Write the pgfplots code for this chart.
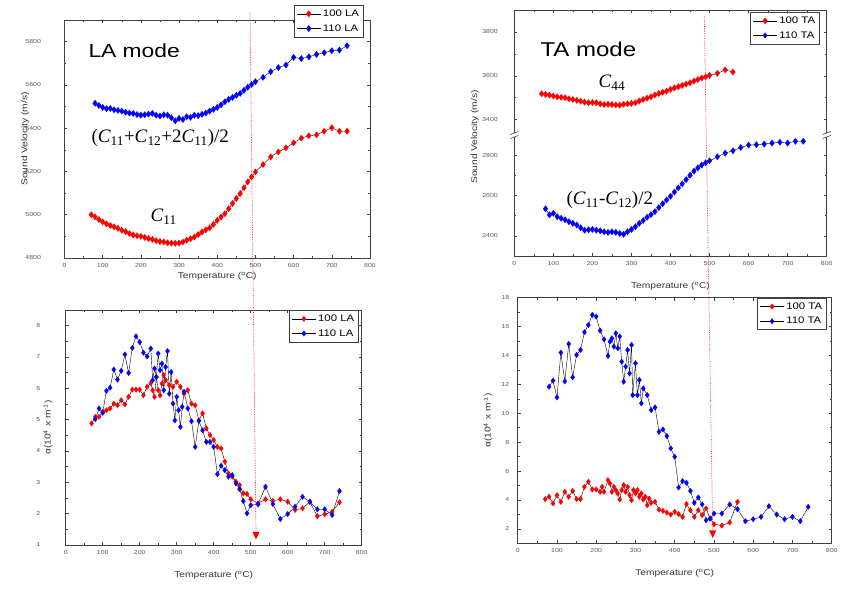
\documentclass[border=0pt]{standalone}
\usepackage{fontspec}
\setmainfont{Liberation Sans}
\newfontfamily\wide[FakeStretch=1.2]{Liberation Sans}
\newfontfamily\serifit{Liberation Serif}
\usepackage{pgfplots}
\pgfplotsset{compat=1.18}
\definecolor{axgray}{gray}{0.25}
\definecolor{tkgray}{gray}{0.35}
\pgfplotsset{
 panel/.style={
  scale only axis, xmin=0, xmax=800, xtick={0,100,...,800}, minor x tick num=1,
  tick align=inside, major tick length=3pt, minor tick length=2pt,
  axis line style={axgray, line width=0.7pt},
  tick style={axgray, line width=0.5pt},
  ticklabel style={font=\wide\fontsize{5.8}{6.5}\selectfont, text=tkgray},
  /pgf/number format/assume math mode=true,
  /pgf/number format/1000 sep={},
  xticklabel style={yshift=-2pt},
  label style={font=\wide\fontsize{8.5}{10}\selectfont, text=black!80},
  xlabel={Temperature (\textsuperscript{o}C)},
  legend cell align=left,
  legend image code/.code={\draw[mark repeat=2,mark phase=2,##1] plot coordinates {(0pt,0pt) (12pt,0pt) (24pt,0pt)};},
  legend style={draw=axgray, line width=0.6pt, font=\wide\fontsize{9.5}{11}\selectfont, inner xsep=2.5pt, inner ysep=2.5pt, row sep=2.5pt},
 },
 s100/.style={black, line width=0.4pt, mark=diamond*, mark size=2.8pt, mark options={draw=red, fill=red, line width=0.2pt}},
 s110/.style={black, line width=0.4pt, mark=diamond*, mark size=2.8pt, mark options={draw=blue, fill=blue, line width=0.2pt}},
 big/.style={mark size=3.2pt},
}
\begin{document}
\begin{tikzpicture}
\path[use as bounding box] (0pt,0pt) rectangle (865pt,599pt);
% ---------------- Panel A: LA velocity
\begin{axis}[panel, at={(64.5pt,341pt)}, anchor=south west, width=305.5pt, height=238pt,
  ymin=4800, ymax=5900, ytick={4800,5000,...,5800}, minor y tick num=1,
  yticklabel style={xshift=-20pt},
  ylabel={Sound Velocity (m/s)}, ylabel style={at={(axis description cs:-0.129,0.5)}, anchor=center},
  xlabel style={at={(axis description cs:0.5,-0.0756)}, anchor=center},
  legend style={at={(0.98,1.063)}, anchor=north east}]
\addplot[s100,big] coordinates {(70,5000) (80,4990) (90,4978) (100,4967) (110,4958) (120,4950) (130,4944) (140,4937) (150,4928) (160,4922) (170,4913) (180,4906) (190,4903) (200,4900) (210,4895) (220,4890) (230,4886) (240,4880) (250,4876) (260,4874) (270,4870) (280,4869) (290,4868) (300,4869) (310,4874) (320,4882) (330,4889) (340,4897) (350,4908) (360,4920) (370,4930) (380,4939) (390,4955) (400,4974) (410,4990) (420,5005) (430,5028) (440,5052) (450,5075) (460,5098) (470,5125) (480,5152) (490,5175) (500,5198) (520,5232) (540,5267) (560,5290) (580,5309) (600,5332) (620,5354) (640,5365) (660,5369) (680,5386) (700,5402) (720,5386) (740,5386)};
\addlegendentry{100 LA}
\addplot[s110,big] coordinates {(80,5515) (90,5505) (100,5496) (110,5490) (120,5491) (130,5485) (140,5482) (150,5479) (160,5474) (170,5470) (180,5468) (190,5463) (200,5460) (210,5462) (220,5465) (230,5468) (240,5460) (250,5456) (260,5462) (270,5460) (280,5448) (290,5434) (300,5445) (310,5440) (320,5453) (330,5450) (340,5460) (350,5458) (360,5464) (370,5470) (380,5479) (390,5487) (400,5496) (410,5508) (420,5522) (430,5533) (440,5542) (450,5552) (460,5561) (470,5575) (480,5589) (490,5602) (500,5615) (520,5635) (540,5661) (560,5680) (580,5692) (600,5727) (620,5722) (640,5730) (660,5741) (680,5749) (700,5758) (720,5761) (740,5781)};
\addlegendentry{110 LA}
\end{axis}
% ---------------- Panel B lower
\begin{axis}[panel, at={(514.3pt,343pt)}, anchor=south west, width=312.4pt, height=121pt,
  ymin=2300, ymax=2900, ytick={2400,2600,2800}, minor y tick num=1, xtick pos=left,
  axis line style={draw=none}, yticklabel style={xshift=-13pt},
  xlabel style={at={(axis description cs:0.5,-0.248)}, anchor=center}]
\addplot[s110,big] coordinates {(80,2534) (90,2504) (100,2512) (110,2495) (120,2487) (130,2480) (140,2470) (150,2462) (160,2454) (170,2440) (180,2428) (190,2430) (200,2432) (210,2428) (220,2425) (230,2420) (240,2417) (250,2420) (260,2417) (270,2412) (280,2408) (290,2420) (300,2432) (310,2445) (320,2462) (330,2476) (340,2492) (350,2505) (360,2520) (370,2540) (380,2559) (390,2578) (400,2596) (410,2617) (420,2638) (430,2658) (440,2679) (450,2700) (460,2721) (470,2737) (480,2751) (490,2762) (500,2772) (520,2792) (540,2810) (560,2822) (580,2838) (600,2850) (620,2852) (640,2855) (660,2860) (680,2864) (700,2860) (720,2869) (740,2869)};
\end{axis}
% ---------------- Panel B upper
\begin{axis}[panel, at={(514.3pt,464pt)}, anchor=south west, width=312.4pt, height=125pt,
  ymin=3330, ymax=3900, ytick={3400,3600,3800}, minor y tick num=1, xtick pos=right,
  xticklabels={}, xlabel={}, axis line style={draw=none}, yticklabel style={xshift=-13pt},
  legend style={at={(0.9786,0.984)}, anchor=north east}]
\addplot[s100,big] coordinates {(70,3518) (80,3515) (90,3512) (100,3508) (110,3504) (120,3502) (130,3500) (140,3495) (150,3492) (160,3488) (170,3484) (180,3480) (190,3477) (200,3478) (210,3477) (220,3472) (230,3469) (240,3470) (250,3469) (260,3467) (270,3466) (280,3470) (290,3472) (300,3474) (310,3477) (320,3485) (330,3492) (340,3498) (350,3504) (360,3512) (370,3519) (380,3525) (390,3530) (400,3538) (410,3545) (420,3550) (430,3556) (440,3562) (450,3568) (460,3576) (470,3583) (480,3590) (490,3595) (500,3602) (520,3611) (540,3627) (560,3617)};
\addlegendentry{100 TA}
\addlegendimage{s110}
\addlegendentry{110 TA}
\end{axis}
% frame of panel B with axis break
\draw[axgray, line width=0.7pt] (514.3pt,466pt) -- (514.3pt,589pt) -- (826.7pt,589pt) -- (826.7pt,466pt);
\draw[axgray, line width=0.7pt] (514.3pt,462pt) -- (514.3pt,343pt) -- (826.7pt,343pt) -- (826.7pt,462pt);
\foreach \bx in {514.3,826.7}{
  \draw[axgray, line width=0.6pt] (\bx pt-4pt,460.5pt) -- (\bx pt+4pt,463.5pt);
  \draw[axgray, line width=0.6pt] (\bx pt-4pt,464.5pt) -- (\bx pt+4pt,467.5pt);
}
\node[rotate=90, font=\wide\fontsize{8.5}{10}\selectfont, text=black!80] at (475pt,462pt) {Sound Velocity (m/s)};
% ---------------- Panel C: LA attenuation
\begin{axis}[panel, at={(65.7pt,54pt)}, anchor=south west, width=296pt, height=235pt,
  ymin=1, ymax=8.5, ytick={1,...,8}, minor y tick num=1,
  yticklabel style={xshift=-22pt},
  ylabel={α(10\textsuperscript{4} x m\textsuperscript{-1})}, ylabel style={at={(axis description cs:-0.06,0.5)}, anchor=center},
  xlabel style={at={(axis description cs:0.5,-0.128)}, anchor=center},
  legend style={at={(0.991,1)}, anchor=north east}]
\addplot[s100] coordinates {(70,4.88) (80,5.09) (90,5.09) (100,5.25) (110,5.30) (120,5.36) (130,5.51) (140,5.46) (150,5.62) (160,5.49) (170,5.73) (180,5.96) (190,5.96) (200,5.96) (210,5.78) (220,6.05) (230,6.17) (235,5.94) (240,5.73) (245,6.36) (250,5.94) (255,5.78) (260,6.15) (265,6.42) (270,6.26) (280,6.10) (290,6.05) (300,6.21) (310,6.05) (320,5.83) (330,5.94) (340,5.51) (350,5.46) (360,4.98) (370,5.20) (380,4.72) (390,4.51) (400,4.35) (410,4.13) (420,4.08) (430,3.66) (440,3.28) (450,3.18) (460,3.02) (470,2.91) (480,2.65) (490,2.63) (500,2.46) (520,2.33) (540,2.46) (560,2.41) (580,2.46) (600,2.38) (620,2.12) (640,2.17) (660,2.38) (680,1.92) (700,1.98) (720,2.06) (740,2.36)};
\addlegendentry{100 LA}
\addplot[s110] coordinates {(80,5.02) (90,5.36) (100,5.22) (110,5.92) (120,6.02) (130,6.60) (140,6.28) (150,6.56) (160,7.08) (170,6.49) (180,7.29) (190,7.66) (200,7.48) (210,7.14) (220,7.02) (230,7.27) (235,6.26) (240,6.63) (245,6.36) (250,7.11) (255,6.58) (260,6.79) (265,5.94) (270,6.68) (275,7.19) (280,5.83) (285,6.52) (290,5.51) (295,4.98) (300,5.73) (305,5.30) (310,4.77) (315,5.41) (320,5.89) (330,5.36) (340,4.95) (350,4.13) (360,4.96) (370,4.66) (380,4.29) (390,4.29) (400,4.13) (410,3.26) (420,3.53) (430,3.39) (440,3.18) (450,3.23) (460,2.97) (470,2.78) (480,2.40) (490,2.01) (500,2.27) (520,2.30) (540,2.86) (560,2.31) (580,1.83) (600,1.99) (620,2.22) (640,2.54) (660,2.38) (680,2.14) (700,2.14) (720,1.96) (740,2.72)};
\addlegendentry{110 LA}
\end{axis}
% ---------------- Panel D: TA attenuation
\begin{axis}[panel, at={(517.7pt,55.7pt)}, anchor=south west, width=314pt, height=245.6pt,
  ymin=1, ymax=18, ytick={2,4,...,18}, minor y tick num=1,
  yticklabel style={xshift=-5pt},
  ylabel={α(10\textsuperscript{4} x m\textsuperscript{-1})}, ylabel style={at={(axis description cs:-0.0946,0.5)}, anchor=center},
  xlabel style={at={(axis description cs:0.5,-0.122)}, anchor=center},
  legend style={at={(0.985,1)}, anchor=north east}]
\addplot[s100] coordinates {(70,4.06) (80,4.22) (90,3.76) (100,4.33) (110,3.87) (120,4.56) (130,4.22) (140,4.63) (150,4.06) (160,4.06) (170,4.91) (180,5.26) (190,4.73) (200,4.73) (210,4.56) (215,4.91) (220,4.56) (230,5.37) (235,5.14) (240,4.56) (245,4.91) (250,4.68) (255,4.45) (260,4.03) (265,4.68) (270,5.03) (275,4.56) (280,4.91) (285,4.33) (290,3.99) (295,4.68) (300,4.45) (305,4.68) (310,4.22) (315,4.45) (320,4.03) (325,4.22) (330,3.64) (335,4.10) (340,3.80) (350,3.87) (360,3.34) (370,3.25) (380,3.13) (390,2.99) (400,3.18) (410,3.02) (420,2.83) (430,3.71) (440,3.29) (450,2.83) (460,3.29) (470,2.95) (480,3.41) (490,2.72) (500,2.32) (520,2.23) (540,2.44) (560,3.87)};
\addlegendentry{100 TA}
\addplot[s110] coordinates {(80,11.84) (90,12.26) (100,11.10) (110,14.20) (120,12.21) (130,14.80) (140,12.49) (150,14.04) (160,14.38) (170,15.61) (180,16.11) (190,16.81) (200,16.69) (210,15.72) (220,15.12) (230,13.97) (235,14.96) (240,15.19) (245,14.61) (250,15.54) (255,14.50) (260,15.31) (265,13.57) (270,12.19) (275,13.23) (280,14.38) (285,12.76) (290,14.73) (293,11.26) (300,13.46) (305,11.26) (310,12.30) (315,10.69) (320,11.72) (330,11.26) (340,10.22) (350,10.41) (360,8.72) (370,8.88) (380,8.42) (390,7.57) (400,6.99) (410,4.86) (420,5.30) (430,5.19) (440,4.63) (450,3.80) (460,4.17) (470,3.69) (480,2.60) (490,2.72) (500,3.06) (520,3.06) (540,3.69) (560,3.36) (580,2.53) (600,2.67) (620,2.83) (640,3.57) (660,2.99) (680,2.67) (700,2.83) (720,2.53) (740,3.52)};
\addlegendentry{110 TA}
\end{axis}
% ---------------- annotations
\node[anchor=base west, font=\wide\fontsize{19}{22}\selectfont] at (85pt,541pt) {LA mode};
\node[anchor=base west, font=\serifit\fontsize{19}{22}\selectfont] at (88pt,456pt) {(\textit{C}\textsubscript{11}+\textit{C}\textsubscript{12}+2\textit{C}\textsubscript{11})/2};
\node[anchor=base west, font=\serifit\fontsize{19}{22}\selectfont] at (147pt,377pt) {\textit{C}\textsubscript{11}};
\node[anchor=base west, font=\wide\fontsize{20}{22}\selectfont] at (537pt,542pt) {TA mode};
\node[anchor=base west, font=\serifit\fontsize{19}{22}\selectfont] at (595pt,511pt) {\textit{C}\textsubscript{44}};
\node[anchor=base west, font=\serifit\fontsize{19}{22}\selectfont] at (563pt,394pt) {(\textit{C}\textsubscript{11}-\textit{C}\textsubscript{12})/2};
% dotted markers of the transition temperature
\draw[red!85!white, densely dotted, line width=0.7pt] (250pt,586pt) -- (256pt,66pt);
\fill[red] (252.5pt,67pt) -- (259.5pt,67pt) -- (256pt,59.5pt) -- cycle;
\draw[red!85!white, densely dotted, line width=0.7pt] (704.3pt,583pt) -- (712.7pt,68pt);
\fill[red] (709.2pt,68.5pt) -- (716.2pt,68.5pt) -- (712.7pt,61pt) -- cycle;
\end{tikzpicture}
\end{document}
